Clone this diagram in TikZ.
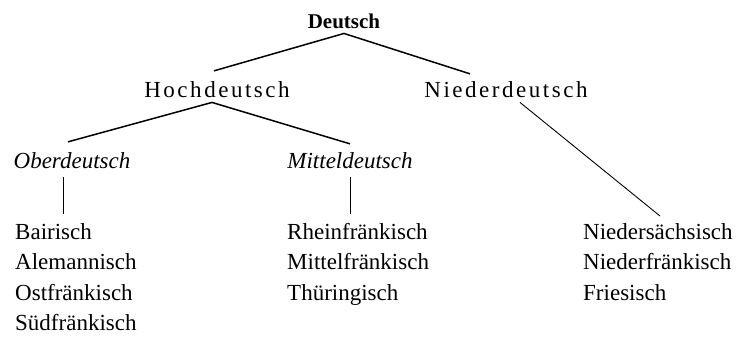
\documentclass[tikz,border=0pt]{standalone}
\usepackage{fontspec}
\setmainfont{Liberation Serif}
\newfontfamily\spacedfont[LetterSpace=11]{Liberation Serif}
\usetikzlibrary{calc}

\begin{document}
\begin{tikzpicture}[x=1pt,y=-1pt,
        lang/.style={inner sep=0pt,anchor=base,font=\fontsize{23}{30.5}\selectfont},
        list/.style={lang,anchor=north west,align=left},
        branch/.style={line width=1.5pt},
        twig/.style={line width=0.9pt}]
    \useasboundingbox (0,0) rectangle (739,340);
    \node[lang,font=\fontsize{21}{25}\selectfont\bfseries] (deutsch) at (344,28) {Deutsch};
    \node[lang,font=\fontsize{23}{29}\spacedfont] (hoch) at (217,97) {Hochdeutsch};
    \node[lang,font=\fontsize{23}{29}\spacedfont] (nieder) at (506,97) {Niederdeutsch};
    \node[lang,font=\fontsize{23}{29}\selectfont\itshape] (ober) at (72,168) {Oberdeutsch};
    \node[lang,font=\fontsize{23}{29}\selectfont\itshape] (mittel) at (350,168) {Mitteldeutsch};
    \node[list] (obList) at (15,223) {Bairisch\\Alemannisch\\Ostfränkisch\\Südfränkisch};
    \node[list] (mdList) at (287,223) {Rheinfränkisch\\Mittelfränkisch\\Thüringisch};
    \node[list] (ndList) at (583,223) {Niedersächsisch\\Niederfränkisch\\Friesisch};
    % Äste
    \draw[branch] ([yshift=-5pt]deutsch.south) -- ([xshift=-3pt,yshift=10pt]hoch.north);
    \draw[branch] ([yshift=-5pt]deutsch.south) -- ([xshift=-36pt,yshift=7pt]nieder.north);
    \draw[branch] ([xshift=-5pt,yshift=-5pt]hoch.south) -- ([xshift=-4pt,yshift=10pt]ober.north);
    \draw[branch] ([xshift=-5pt,yshift=-5pt]hoch.south) -- ([yshift=8pt]mittel.north);
    \draw[twig] ([xshift=14pt,yshift=-5pt]nieder.south) -- ([xshift=77pt,yshift=7pt]ndList.north west);
    \draw[twig] ($(ober.south)+(-9pt,-9pt)$) -- ($(ober.south |- obList.north)+(-9pt,9pt)$);
    \draw[twig] ($(mittel.south)+(0,-9pt)$) -- ($(mittel.south |- mdList.north)+(0,9pt)$);
\end{tikzpicture}
\end{document}
